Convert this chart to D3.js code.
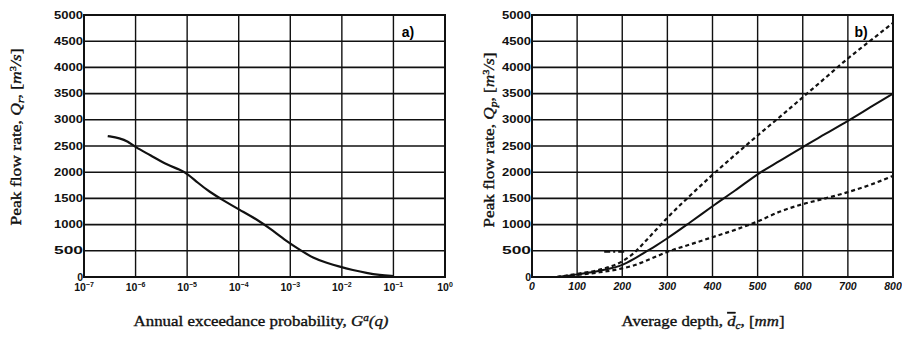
<!DOCTYPE html>
<html><head><meta charset="utf-8">
<script src="https://cdn.jsdelivr.net/npm/d3@7"></script>
<style>
body{margin:0;background:#fff;}
svg{display:block;}
.tick-lbl{font-family:"Liberation Sans",Arial,sans-serif;font-weight:bold;font-size:10.5px;fill:#111;}
.title{font-family:"Liberation Serif","Times New Roman",serif;font-size:15px;fill:#111;stroke:#111;stroke-width:0.35px;}
</style>
</head><body>
<script>
// ---- data ----
const yTicks = [0, 500, 1000, 1500, 2000, 2500, 3000, 3500, 4000, 4500, 5000];
const probExponents = [-7, -6, -5, -4, -3, -2, -1, 0];
const depthTicks = [0, 100, 200, 300, 400, 500, 600, 700, 800];

// Panel a: exceedance probability (log10) vs peak flow rate
const probLog = [-6.54, -6.30, -6.15, -6.01, -5.72, -5.39, -5.14, -4.98, -4.81, -4.56, -4.31, -3.98, -3.65, -3.40, -3.07, -2.81, -2.56, -2.29, -2.04, -1.79, -1.52, -1.27, -1.0];
const flowA   = [2690, 2650, 2590, 2480, 2330, 2140, 2050, 1960, 1810, 1620, 1470, 1280, 1100, 930, 680, 515, 363, 267, 195, 134, 76, 38, 19];

// Panel b: average depth vs peak flow rate
const depth      = [55, 100, 150, 200, 225, 250, 275, 300, 350, 400, 450, 500, 550, 600, 650, 700, 750, 800];
const flowMid    = [0, 50, 120, 230, 340, 470, 600, 740, 1040, 1350, 1650, 1960, 2220, 2480, 2730, 2980, 3240, 3500];
const flowUpper  = [0, 60, 140, 300, 450, 670, 900, 1130, 1550, 1950, 2330, 2700, 3060, 3430, 3800, 4170, 4510, 4850];
const flowLower  = [0, 40, 90, 165, 220, 300, 390, 480, 620, 760, 900, 1060, 1250, 1390, 1500, 1620, 1760, 1930];
const stubDepth  = [160, 205];
const stubFlow   = [480, 480];

const W = 902, H = 338;
const svg = d3.select("body").append("svg").attr("width", W).attr("height", H);

const plotTop = 15, plotBottom = 277;
const y = d3.scaleLinear().domain([0, 5000]).range([plotBottom, plotTop]);
const xa = d3.scaleLog().domain([1e-7, 1]).range([84, 445]);
const xb = d3.scaleLinear().domain([0, 800]).range([532, 893]);

function frame(g, x0, x1, vx) {
  g.selectAll(".hg").data(yTicks).join("line")
    .attr("x1", x0).attr("x2", x1)
    .attr("y1", d => y(d)).attr("y2", d => y(d))
    .attr("stroke", "#111").attr("stroke-width", 1.6);
  g.selectAll(".vg").data(vx).join("line")
    .attr("x1", d => d).attr("x2", d => d)
    .attr("y1", plotTop).attr("y2", plotBottom)
    .attr("stroke", "#111").attr("stroke-width", 1.4);
  g.append("rect").attr("x", x0).attr("y", plotTop).attr("width", x1 - x0).attr("height", plotBottom - plotTop)
    .attr("fill", "none").attr("stroke", "#111").attr("stroke-width", 2);
  g.selectAll(".yl").data(yTicks).join("text").attr("class", "tick-lbl")
    .attr("x", x0 - 1).attr("y", d => y(d) + 3.5).attr("text-anchor", "end")
    .attr("textLength", d => d === 0 ? null : 29).attr("lengthAdjust", "spacingAndGlyphs")
    .text(d => d);
}

// ---- Panel a ----
const ga = svg.append("g");
frame(ga, xa(1e-7), xa(1), probExponents.map(e => xa(Math.pow(10, e))));
const xlA = ga.selectAll(".xl").data(probExponents).join("text").attr("class", "tick-lbl")
  .attr("x", d => xa(Math.pow(10, d))).attr("y", 291).attr("text-anchor", "middle");
xlA.append("tspan").text("10");
xlA.append("tspan").attr("dy", -4).attr("font-size", "7px").text(d => d === 0 ? "0" : "\u2212" + Math.abs(d));

const lineA = d3.line().x(d => xa(Math.pow(10, d[0]))).y(d => y(d[1])).curve(d3.curveBasis);
ga.append("path").datum(probLog.map((p, i) => [p, flowA[i]]))
  .attr("d", lineA).attr("fill", "none").attr("stroke", "#111").attr("stroke-width", 2.2);

ga.append("text").attr("x", 408).attr("y", 37).attr("text-anchor", "middle")
  .attr("font-family", "Liberation Sans, Arial, sans-serif").attr("font-weight", "bold").attr("font-size", "14px").text("a)");

ga.append("text").attr("class", "title").attr("transform", "translate(21,137) rotate(-90)")
  .attr("text-anchor", "middle").attr("textLength", 177).attr("lengthAdjust", "spacingAndGlyphs")
  .html('Peak flow rate, <tspan font-style="italic">Q</tspan><tspan font-style="italic" font-size="10px" dy="3">r</tspan><tspan dy="-3">, [</tspan><tspan font-style="italic">m</tspan><tspan font-size="9px" dy="-5">3</tspan><tspan dy="5" font-style="italic">/s</tspan>]');

ga.append("text").attr("class", "title").attr("x", 261).attr("y", 326).attr("text-anchor", "middle")
  .attr("textLength", 255).attr("lengthAdjust", "spacingAndGlyphs")
  .html('Annual exceedance probability, <tspan font-style="italic">G</tspan><tspan font-style="italic" font-size="10px" dy="-5">a</tspan><tspan dy="5" font-style="italic">(q)</tspan>');

// ---- Panel b ----
const gb = svg.append("g");
frame(gb, xb(0), xb(800), depthTicks.map(d => xb(d)));
gb.selectAll(".xl").data(depthTicks).join("text").attr("class", "tick-lbl")
  .attr("x", d => xb(d)).attr("y", 290).attr("text-anchor", "middle")
  .attr("font-style", "italic").attr("font-size", "11px").text(d => d);

const lineB = d3.line().x(d => xb(d[0])).y(d => y(d[1])).curve(d3.curveMonotoneX);
gb.append("path").datum(depth.map((d, i) => [d, flowMid[i]]))
  .attr("d", lineB).attr("fill", "none").attr("stroke", "#111").attr("stroke-width", 2);
gb.append("path").datum(depth.map((d, i) => [d, flowUpper[i]]))
  .attr("d", lineB).attr("fill", "none").attr("stroke", "#111").attr("stroke-width", 2.2)
  .attr("stroke-dasharray", "4,3");
gb.append("path").datum(depth.map((d, i) => [d, flowLower[i]]))
  .attr("d", lineB).attr("fill", "none").attr("stroke", "#111").attr("stroke-width", 2.2)
  .attr("stroke-dasharray", "4,3");
gb.append("path").datum(stubDepth.map((d, i) => [d, stubFlow[i]]))
  .attr("d", d3.line().x(d => xb(d[0])).y(d => y(d[1]))).attr("fill", "none")
  .attr("stroke", "#111").attr("stroke-width", 1.6).attr("stroke-dasharray", "6,3,2,3");

gb.append("text").attr("x", 861).attr("y", 37).attr("text-anchor", "middle")
  .attr("font-family", "Liberation Sans, Arial, sans-serif").attr("font-weight", "bold").attr("font-size", "14px").text("b)");

gb.append("text").attr("class", "title").attr("transform", "translate(494,140) rotate(-90)")
  .attr("text-anchor", "middle").attr("textLength", 175).attr("lengthAdjust", "spacingAndGlyphs")
  .html('Peak flow rate, <tspan font-style="italic">Q</tspan><tspan font-style="italic" font-size="10px" dy="3">p</tspan><tspan dy="-3">, [</tspan><tspan font-style="italic">m</tspan><tspan font-size="9px" dy="-5">3</tspan><tspan dy="5" font-style="italic">/s</tspan>]');

gb.append("text").attr("class", "title").attr("x", 703).attr("y", 326).attr("text-anchor", "middle")
  .attr("textLength", 163).attr("lengthAdjust", "spacingAndGlyphs")
  .html('Average depth, <tspan font-style="italic" text-decoration="overline">d</tspan><tspan font-style="italic" font-size="10px" dy="3">c</tspan><tspan dy="-3">, [</tspan><tspan font-style="italic">mm</tspan>]');
</script>
</body></html>
